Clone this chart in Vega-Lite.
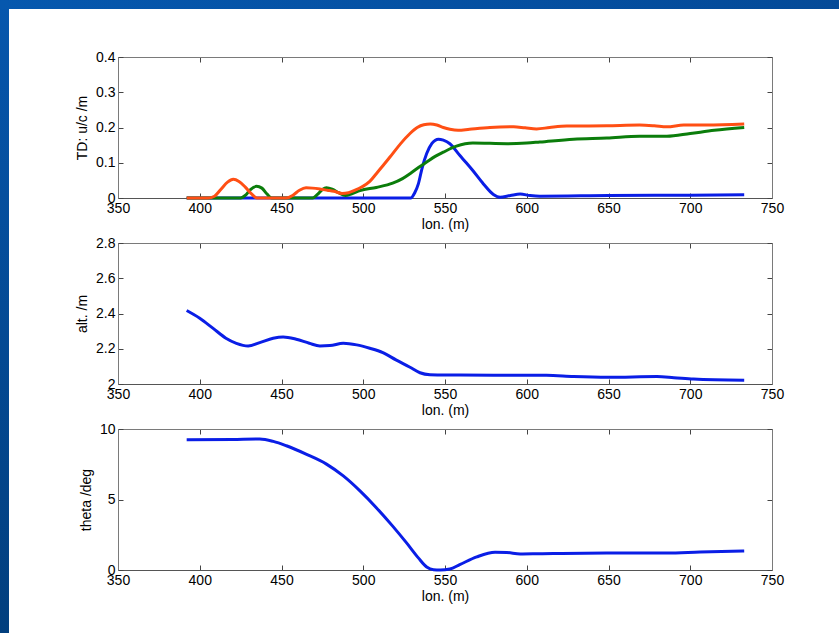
{
  "$schema": "https://vega.github.io/schema/vega-lite/v6.json",
  "background": "white",
  "padding": 0,
  "spacing": -10,
  "datasets": {
    "td": [
      {"series": "s1", "lon": 392, "td": 0},
      {"series": "s1", "lon": 529, "td": 0},
      {"series": "s1", "lon": 531.5, "td": 0.015},
      {"series": "s1", "lon": 533.7, "td": 0.04},
      {"series": "s1", "lon": 536, "td": 0.085},
      {"series": "s1", "lon": 538.8, "td": 0.126},
      {"series": "s1", "lon": 542, "td": 0.155},
      {"series": "s1", "lon": 546, "td": 0.167},
      {"series": "s1", "lon": 549, "td": 0.164},
      {"series": "s1", "lon": 553, "td": 0.154},
      {"series": "s1", "lon": 559, "td": 0.121},
      {"series": "s1", "lon": 563, "td": 0.1},
      {"series": "s1", "lon": 567, "td": 0.078},
      {"series": "s1", "lon": 573.5, "td": 0.04},
      {"series": "s1", "lon": 579.6, "td": 0.01},
      {"series": "s1", "lon": 583.7, "td": 0.002},
      {"series": "s1", "lon": 590, "td": 0.007},
      {"series": "s1", "lon": 596, "td": 0.011},
      {"series": "s1", "lon": 602, "td": 0.007},
      {"series": "s1", "lon": 608, "td": 0.005},
      {"series": "s1", "lon": 650, "td": 0.007},
      {"series": "s1", "lon": 700, "td": 0.008},
      {"series": "s1", "lon": 733, "td": 0.009},
      {"series": "s2", "lon": 392, "td": 0},
      {"series": "s2", "lon": 425, "td": 0},
      {"series": "s2", "lon": 428, "td": 0.008},
      {"series": "s2", "lon": 431, "td": 0.024},
      {"series": "s2", "lon": 434.7, "td": 0.033},
      {"series": "s2", "lon": 438, "td": 0.028},
      {"series": "s2", "lon": 441, "td": 0.012},
      {"series": "s2", "lon": 444, "td": 0},
      {"series": "s2", "lon": 469, "td": 0},
      {"series": "s2", "lon": 472, "td": 0.01},
      {"series": "s2", "lon": 475, "td": 0.024},
      {"series": "s2", "lon": 477.5, "td": 0.029},
      {"series": "s2", "lon": 481, "td": 0.025},
      {"series": "s2", "lon": 485, "td": 0.015},
      {"series": "s2", "lon": 489, "td": 0.007},
      {"series": "s2", "lon": 493, "td": 0.012},
      {"series": "s2", "lon": 498, "td": 0.021},
      {"series": "s2", "lon": 508, "td": 0.03},
      {"series": "s2", "lon": 518, "td": 0.042},
      {"series": "s2", "lon": 524, "td": 0.055},
      {"series": "s2", "lon": 528.6, "td": 0.069},
      {"series": "s2", "lon": 534, "td": 0.087},
      {"series": "s2", "lon": 538.8, "td": 0.102},
      {"series": "s2", "lon": 544, "td": 0.118},
      {"series": "s2", "lon": 549, "td": 0.13},
      {"series": "s2", "lon": 557, "td": 0.147},
      {"series": "s2", "lon": 567, "td": 0.156},
      {"series": "s2", "lon": 588, "td": 0.154},
      {"series": "s2", "lon": 600, "td": 0.156},
      {"series": "s2", "lon": 608, "td": 0.159},
      {"series": "s2", "lon": 628.6, "td": 0.167},
      {"series": "s2", "lon": 649, "td": 0.17},
      {"series": "s2", "lon": 669, "td": 0.175},
      {"series": "s2", "lon": 685.7, "td": 0.175},
      {"series": "s2", "lon": 700, "td": 0.183},
      {"series": "s2", "lon": 714.7, "td": 0.192},
      {"series": "s2", "lon": 733, "td": 0.2},
      {"series": "s3", "lon": 392, "td": 0},
      {"series": "s3", "lon": 405, "td": 0},
      {"series": "s3", "lon": 409, "td": 0.005},
      {"series": "s3", "lon": 413, "td": 0.025},
      {"series": "s3", "lon": 417, "td": 0.045},
      {"series": "s3", "lon": 420.5, "td": 0.053},
      {"series": "s3", "lon": 424, "td": 0.047},
      {"series": "s3", "lon": 428, "td": 0.03},
      {"series": "s3", "lon": 432, "td": 0.01},
      {"series": "s3", "lon": 435, "td": 0},
      {"series": "s3", "lon": 453, "td": 0},
      {"series": "s3", "lon": 457, "td": 0.008},
      {"series": "s3", "lon": 461, "td": 0.022},
      {"series": "s3", "lon": 465, "td": 0.029},
      {"series": "s3", "lon": 469, "td": 0.028},
      {"series": "s3", "lon": 474, "td": 0.025},
      {"series": "s3", "lon": 478, "td": 0.022},
      {"series": "s3", "lon": 482, "td": 0.019},
      {"series": "s3", "lon": 487, "td": 0.013},
      {"series": "s3", "lon": 491, "td": 0.015},
      {"series": "s3", "lon": 495, "td": 0.022},
      {"series": "s3", "lon": 499, "td": 0.031},
      {"series": "s3", "lon": 504, "td": 0.047},
      {"series": "s3", "lon": 508, "td": 0.069},
      {"series": "s3", "lon": 513, "td": 0.097},
      {"series": "s3", "lon": 518, "td": 0.126},
      {"series": "s3", "lon": 523, "td": 0.155},
      {"series": "s3", "lon": 528.6, "td": 0.183},
      {"series": "s3", "lon": 533, "td": 0.2},
      {"series": "s3", "lon": 537, "td": 0.208},
      {"series": "s3", "lon": 541, "td": 0.21},
      {"series": "s3", "lon": 545, "td": 0.207},
      {"series": "s3", "lon": 549, "td": 0.2},
      {"series": "s3", "lon": 553, "td": 0.195},
      {"series": "s3", "lon": 558, "td": 0.192},
      {"series": "s3", "lon": 565, "td": 0.195},
      {"series": "s3", "lon": 577.5, "td": 0.2},
      {"series": "s3", "lon": 592, "td": 0.202},
      {"series": "s3", "lon": 599, "td": 0.199},
      {"series": "s3", "lon": 606, "td": 0.196},
      {"series": "s3", "lon": 614, "td": 0.2},
      {"series": "s3", "lon": 624.5, "td": 0.204},
      {"series": "s3", "lon": 649, "td": 0.205},
      {"series": "s3", "lon": 669, "td": 0.207},
      {"series": "s3", "lon": 678, "td": 0.205},
      {"series": "s3", "lon": 685.7, "td": 0.202},
      {"series": "s3", "lon": 696, "td": 0.207},
      {"series": "s3", "lon": 710, "td": 0.207},
      {"series": "s3", "lon": 733, "td": 0.21}
    ],
    "alt": [
      {"lon": 392, "alt": 2.417},
      {"lon": 400, "alt": 2.373},
      {"lon": 408, "alt": 2.317},
      {"lon": 416, "alt": 2.26},
      {"lon": 422.4, "alt": 2.231},
      {"lon": 429.6, "alt": 2.216},
      {"lon": 436.7, "alt": 2.235},
      {"lon": 444.9, "alt": 2.26},
      {"lon": 451, "alt": 2.267},
      {"lon": 459, "alt": 2.254},
      {"lon": 467, "alt": 2.231},
      {"lon": 473.5, "alt": 2.216},
      {"lon": 479.6, "alt": 2.218},
      {"lon": 487.8, "alt": 2.231},
      {"lon": 496, "alt": 2.222},
      {"lon": 504, "alt": 2.203},
      {"lon": 512, "alt": 2.178},
      {"lon": 520, "alt": 2.137},
      {"lon": 528.6, "alt": 2.095},
      {"lon": 534.7, "alt": 2.064},
      {"lon": 540.8, "alt": 2.053},
      {"lon": 550, "alt": 2.051},
      {"lon": 559, "alt": 2.051},
      {"lon": 600, "alt": 2.049},
      {"lon": 612, "alt": 2.049},
      {"lon": 628.6, "alt": 2.042},
      {"lon": 650, "alt": 2.038},
      {"lon": 679.6, "alt": 2.042},
      {"lon": 690, "alt": 2.036},
      {"lon": 702, "alt": 2.028},
      {"lon": 733, "alt": 2.021}
    ],
    "theta": [
      {"lon": 392, "theta": 9.24},
      {"lon": 420, "theta": 9.26},
      {"lon": 436.7, "theta": 9.29},
      {"lon": 445, "theta": 9.12},
      {"lon": 453, "theta": 8.81},
      {"lon": 465, "theta": 8.22},
      {"lon": 477.5, "theta": 7.51},
      {"lon": 487.8, "theta": 6.67},
      {"lon": 498, "theta": 5.61},
      {"lon": 508, "theta": 4.42},
      {"lon": 518, "theta": 3.11},
      {"lon": 526.5, "theta": 1.92},
      {"lon": 533.7, "theta": 0.86},
      {"lon": 538.8, "theta": 0.21},
      {"lon": 543, "theta": 0.02},
      {"lon": 547, "theta": 0},
      {"lon": 553, "theta": 0.07},
      {"lon": 559, "theta": 0.38},
      {"lon": 569.4, "theta": 0.93},
      {"lon": 580.6, "theta": 1.26},
      {"lon": 587.8, "theta": 1.24},
      {"lon": 596, "theta": 1.14},
      {"lon": 608, "theta": 1.16},
      {"lon": 649, "theta": 1.21},
      {"lon": 685.7, "theta": 1.21},
      {"lon": 706, "theta": 1.28},
      {"lon": 733, "theta": 1.35}
    ]
  },
  "vconcat": [
    {
      "spacing": 0,
      "vconcat": [
        {
          "width": 839,
          "height": 9,
          "data": {"values": [{}]},
          "mark": {
            "type": "rect",
            "color": {
              "gradient": "linear", "x1": 0, "y1": 0, "x2": 1, "y2": 0,
              "stops": [{"offset": 0, "color": "#0658ae"}, {"offset": 1, "color": "#044a98"}]
            }
          },
          "encoding": {}
        },
        {
          "width": 9,
          "height": 48,
          "data": {"values": [{}]},
          "mark": {
            "type": "rect",
            "color": {
              "gradient": "linear", "x1": 0, "y1": 0, "x2": 0, "y2": 1,
              "stops": [{"offset": 0, "color": "#0657ad"}, {"offset": 1, "color": "#0654a8"}]
            }
          },
          "encoding": {}
        }
      ]
    },
    {
      "spacing": 66,
      "hconcat": [
        {
          "width": 9,
          "height": 576,
          "data": {"values": [{}]},
          "mark": {
            "type": "rect",
            "color": {
              "gradient": "linear", "x1": 0, "y1": 0, "x2": 0, "y2": 1,
              "stops": [{"offset": 0, "color": "#0654a8"}, {"offset": 1, "color": "#023f7e"}]
            }
          },
          "encoding": {}
        },
        {
          "spacing": 2,
          "vconcat": [
            {
              "width": 654,
              "height": 141,
              "data": {"name": "td"},
              "layer": [
                {
                  "mark": {"type": "line", "strokeWidth": 3, "interpolate": "monotone"},
                  "encoding": {
                    "x": {"field": "lon", "type": "quantitative", "scale": {"domain": [350, 750], "nice": false},
                          "axis": {"orient": "bottom", "values": [350, 400, 450, 500, 550, 600, 650, 700, 750], "title": "lon. (m)", "titlePadding": 2, "domainColor": "#555"}},
                    "y": {"field": "td", "type": "quantitative", "scale": {"domain": [0, 0.4], "nice": false},
                          "axis": {"orient": "left", "values": [0, 0.1, 0.2, 0.3, 0.4], "format": "~r", "title": "TD: u/c /m", "titlePadding": 6}},
                    "color": {"field": "series", "type": "nominal", "legend": null,
                              "scale": {"domain": ["s1", "s2", "s3"], "range": ["#0a1ee6", "#0b7d0b", "#ff4f14"]}}
                  }
                },
                {
                  "mark": {"type": "point", "opacity": 0},
                  "encoding": {
                    "x": {"field": "lon", "type": "quantitative",
                          "axis": {"orient": "top", "labels": false, "title": null, "values": [350, 400, 450, 500, 550, 600, 650, 700, 750], "minExtent": 10, "maxExtent": 10}},
                    "y": {"field": "td", "type": "quantitative",
                          "axis": {"orient": "right", "labels": false, "title": null, "values": [0, 0.1, 0.2, 0.3, 0.4]}}
                  }
                }
              ],
              "resolve": {"axis": {"x": "independent", "y": "independent"}}
            },
            {
              "width": 654,
              "height": 141,
              "data": {"name": "alt"},
              "layer": [
                {
                  "mark": {"type": "line", "strokeWidth": 3, "interpolate": "monotone", "color": "#0a1ee6"},
                  "encoding": {
                    "x": {"field": "lon", "type": "quantitative", "scale": {"domain": [350, 750], "nice": false},
                          "axis": {"orient": "bottom", "values": [350, 400, 450, 500, 550, 600, 650, 700, 750], "title": "lon. (m)", "titlePadding": 2, "domainColor": "#555"}},
                    "y": {"field": "alt", "type": "quantitative", "scale": {"domain": [2, 2.8], "nice": false, "zero": false},
                          "axis": {"orient": "left", "values": [2, 2.2, 2.4, 2.6, 2.8], "format": "~r", "title": "alt. /m", "titlePadding": 6}}
                  }
                },
                {
                  "mark": {"type": "point", "opacity": 0},
                  "encoding": {
                    "x": {"field": "lon", "type": "quantitative",
                          "axis": {"orient": "top", "labels": false, "title": null, "values": [350, 400, 450, 500, 550, 600, 650, 700, 750], "minExtent": 10, "maxExtent": 10}},
                    "y": {"field": "alt", "type": "quantitative",
                          "axis": {"orient": "right", "labels": false, "title": null, "values": [2, 2.2, 2.4, 2.6, 2.8]}}
                  }
                }
              ],
              "resolve": {"axis": {"x": "independent", "y": "independent"}}
            },
            {
              "width": 654,
              "height": 141,
              "data": {"name": "theta"},
              "layer": [
                {
                  "mark": {"type": "line", "strokeWidth": 3, "interpolate": "monotone", "color": "#0a1ee6"},
                  "encoding": {
                    "x": {"field": "lon", "type": "quantitative", "scale": {"domain": [350, 750], "nice": false},
                          "axis": {"orient": "bottom", "values": [350, 400, 450, 500, 550, 600, 650, 700, 750], "title": "lon. (m)", "titlePadding": 2, "domainColor": "#555"}},
                    "y": {"field": "theta", "type": "quantitative", "scale": {"domain": [0, 10], "nice": false},
                          "axis": {"orient": "left", "values": [0, 5, 10], "format": "~r", "title": "theta /deg", "titlePadding": 6}}
                  }
                },
                {
                  "mark": {"type": "point", "opacity": 0},
                  "encoding": {
                    "x": {"field": "lon", "type": "quantitative",
                          "axis": {"orient": "top", "labels": false, "title": null, "values": [350, 400, 450, 500, 550, 600, 650, 700, 750], "minExtent": 10, "maxExtent": 10}},
                    "y": {"field": "theta", "type": "quantitative",
                          "axis": {"orient": "right", "labels": false, "title": null, "values": [0, 5, 10]}}
                  }
                }
              ],
              "resolve": {"axis": {"x": "independent", "y": "independent"}}
            }
          ]
        }
      ]
    }
  ],
  "config": {
    "view": {"stroke": null},
    "axis": {
      "labelFont": "Liberation Sans",
      "labelFontSize": 14,
      "labelColor": "#000",
      "labelFlush": false,
      "labelPadding": 8,
      "titleFont": "Liberation Sans",
      "titleFontSize": 14,
      "titleFontWeight": "normal",
      "titleColor": "#000",
      "tickSize": -5,
      "tickColor": "#444",
      "domainColor": "#7a7a7a",
      "grid": false
    }
  }
}
